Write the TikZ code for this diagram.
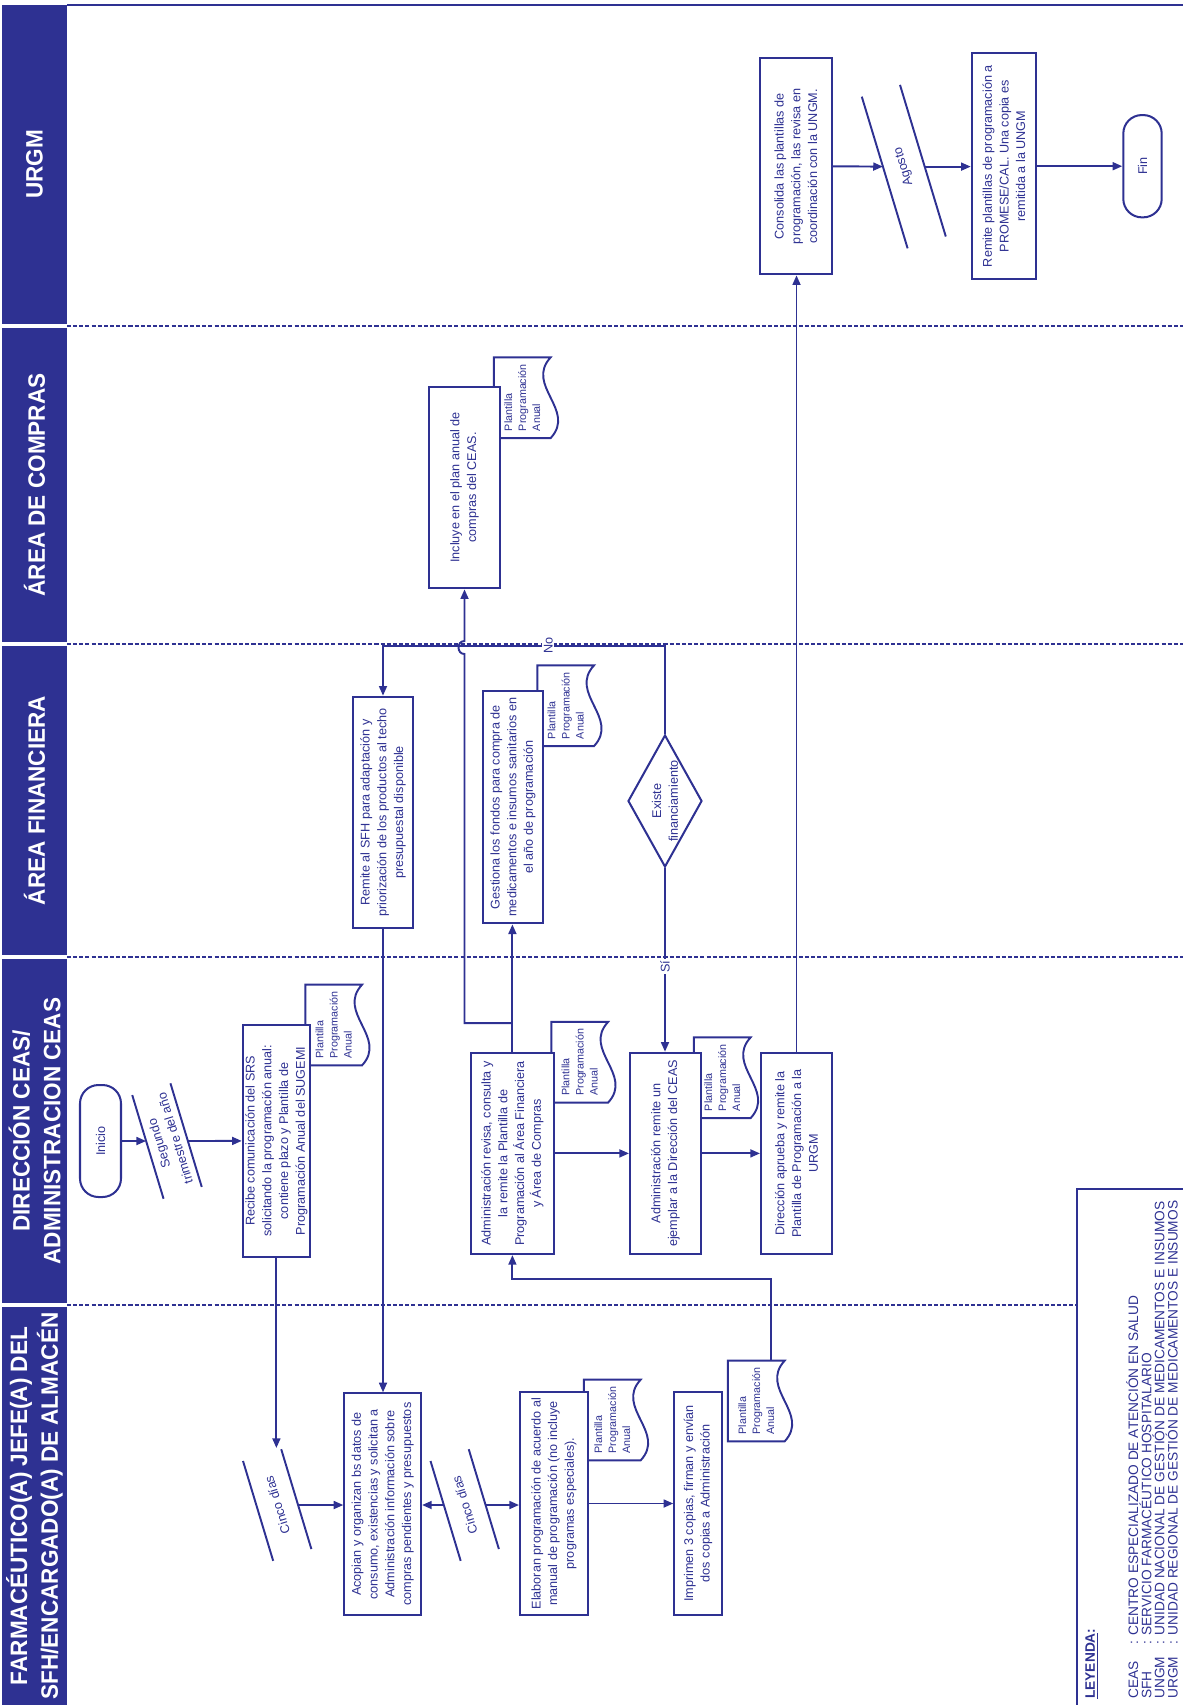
\documentclass[tikz,border=0pt]{standalone}
\usepackage{fontspec}
\setmainfont{Liberation Sans}
\newfontfamily\cabfont[FakeStretch=0.95]{Liberation Sans}
\usetikzlibrary{calc,shapes.geometric,arrows.meta}
\definecolor{azul}{RGB}{46,49,146}
\newcommand{\cuerpo}{\fontsize{7.2}{9.5}\selectfont}
\newcommand{\docfont}{\fontsize{6.1}{8}\selectfont}
\newcommand{\plazo}[4]{%
  \node[plazotxt] (#1) at (#2) {#4};
  \draw[linea] ($(#1)+(-19.1-0.29*#3,5.9-0.96*#3)$) -- ($(#1)+(-19.1+0.29*#3,5.9+0.96*#3)$);
  \draw[linea] ($(#1)+(19.1-0.29*#3,-5.9-0.96*#3)$) -- ($(#1)+(19.1+0.29*#3,-5.9+0.96*#3)$);
  \coordinate (#1-in) at ($(#1)+(-20.9,0)$);
  \coordinate (#1-out) at ($(#1)+(20.9,0)$);
  \coordinate (#1-top) at ($(#1)+(0,-57)$);
}
\newcommand{\plantilla}[2]{%
  \node[docu] (#1) at (#2) {Plantilla\\Programación\\Anual};
  \draw[linea] (#1.north west) -- (#1.north east) -- (#1.south east)
    .. controls ($(#1.south east)+(-26,28)$) and ($(#1.south west)+(26,-28)$) .. (#1.south west) -- cycle;
}
\begin{document}
\begin{tikzpicture}[x=0.02cm,y=-0.02cm,
  linea/.style={draw=azul,line width=1.1pt},
  flecha/.style={linea,-{Triangle[length=5.5pt,width=4.5pt]}},
  divisor/.style={draw=azul,line width=0.8pt,dash pattern=on 2.3pt off 1.2pt},
  tam/.style 2 args={minimum width=#1*0.02cm,minimum height=#2*0.02cm},
  caja/.style={draw=azul,line width=1.15pt,fill=white,rotate=90,align=center,font=\cuerpo,text=azul,inner sep=0pt},
  terminal/.style={caja,rounded corners=0.37cm},
  decision/.style={caja,diamond,aspect=1.78},
  docu/.style={rotate=90,align=left,font=\docfont,text=azul,inner sep=0pt,tam={80}{56}},
  plazotxt/.style={rotate=107,align=center,font=\cuerpo,text=azul,inner sep=0pt},
  etiq/.style={rotate=90,fill=white,inner sep=1pt,font=\cuerpo,text=azul},
  carril/.style={fill=azul,rotate=90,align=center,text=white,inner sep=0pt,font=\cabfont\bfseries\fontsize{13.5}{17.5}\selectfont},
  leyenda/.style={rotate=90,align=left,text=azul,inner sep=0pt,font=\fontsize{7.8}{7.45}\selectfont}]
\useasboundingbox (0,0) rectangle (1183,1705);
\node[carril,tam={319}{65}] (c-urgm) at (34.5,164.5) {URGM};
\node[carril,tam={314}{65}] (c-compras) at (34.5,485) {ÁREA DE COMPRAS};
\node[carril,tam={309}{65}] (c-finan) at (34.5,800.5) {ÁREA FINANCIERA};
\node[carril,tam={344}{65}] (c-direc) at (34.5,1131) {DIRECCIÓN CEAS/\\ADMINISTRACION CEAS};
\node[carril,tam={398}{65}] (c-farma) at (34.5,1506) {FARMACÉUTICO(A) JEFE(A) DEL\\SFH/ENCARGADO(A) DE ALMACÉN};
\draw[azul,line width=1.2pt] (67,4.7) -- (1183,4.7);
\foreach \y in {326,644,957}
  \draw[divisor] (67,\y) -- (1183,\y);
\draw[divisor] (67,1305) -- (1076.7,1305);

\plantilla{docrec}{333.7,1025}
\plantilla{docela}{612.3,1420}
\plantilla{docimp}{756.3,1401}
\plantilla{docadm}{579.7,1062.3}
\plantilla{docrem}{722.3,1077.7}
\plantilla{docges}{565.7,705.7}
\plantilla{docinc}{522.3,397.7}

\node[terminal,tam={112}{41}] (inicio) at (100.5,1141) {Inicio};
\node[caja,tam={231.7}{67.3}] (recibe) at (276.4,1140.9) {Recibe comunicación del SRS\\solicitando la programación anual:\\contiene plazo y Plantilla de\\Programación Anual del SUGEMI};
\node[caja,tam={221.7}{76.7}] (acopian) at (382.7,1504.2) {Acopian y organizan bs datos de\\consumo, existencias y solicitan a\\Administración información sobre\\compras pendientes y presupuestos};
\node[caja,tam={223}{67.7}] (elaboran) at (553.9,1503.5) {Elaboran programación de acuerdo al\\manual de programación (no incluye\\programas especiales).};
\node[caja,tam={223.3}{47.4}] (imprimen) at (698,1503.4) {Imprimen 3 copias, firman y envían\\dos copias a Administración};
\node[caja,tam={201.3}{83.3}] (adminrev) at (512.4,1153.4) {Administración revisa, consulta y\\la remite la Plantilla de\\Programación al Área Financiera\\y Área de Compras};
\node[caja,tam={201.3}{70.7}] (admrem) at (665.4,1153.4) {Administración remite un\\ejemplar a la Dirección del CEAS};
\node[caja,tam={201.3}{71}] (direc) at (796.5,1153.4) {Dirección aprueba y remite la\\Plantilla de Programación a la\\URGM};
\node[caja,tam={231.6}{60.6}] (remite) at (383,812.5) {Remite al SFH para adaptación y\\priorización de los productos al techo\\presupuestal disponible};
\node[caja,tam={232.3}{60.6}] (gestiona) at (513,807.2) {Gestiona los fondos para compra de\\medicamentos e insumos sanitarios en\\el año de programación};
\node[decision,tam={132}{74}] (diam) at (665,801) {Existe\\financiamiento};
\node[caja,tam={201.6}{71}] (incluye) at (464.5,487.5) {Incluye en el plan anual de\\compras del CEAS.};
\node[caja,tam={216}{71.7}] (consol) at (795.9,166.3) {Consolida las plantillas de\\programación, las revisa en\\coordinación con la UNGM.};
\node[caja,tam={225.7}{64.3}] (remplant) at (1003.9,166.2) {Remite plantillas de programación a\\PROMESE/CAL. Una copia es\\remitida a la UNGM};
\node[terminal,tam={102.3}{38.4}] (fin) at (1142.5,166.2) {Fin};

\plazo{segundo}{167,1141}{54}{Segundo\\trimestre del año}
\plazo{cinco1}{277.2,1505}{52}{Cinco días}
\plazo{cinco2}{464.7,1505}{52}{Cinco días}
\plazo{agosto}{903.8,166.6}{79}{Agosto}

\draw[flecha] (inicio.south) -- (segundo-in);
\draw[flecha] (segundo-out) -- (recibe.north);
\draw[flecha] (recibe.west) -- (recibe.west |- cinco1-top);
\draw[flecha] (cinco1-out) -- (cinco1-out -| acopian.north);
\draw[flecha] (cinco2-in) -- (cinco2-in -| acopian.south);
\draw[flecha] (cinco2-out) -- (cinco2-out -| elaboran.north);
\draw[flecha] (elaboran.south) -- (elaboran.south -| imprimen.north);
\draw[flecha] ($(docimp.east)+(14.4,0)$) |- ($(adminrev.west)+(0,24)$) -- (adminrev.west);
\draw[flecha] (adminrev.south) -- (adminrev.south -| admrem.north);
\draw[flecha] (admrem.south) -- (admrem.south -| direc.north);
\draw[flecha] (adminrev.east) -- (adminrev.east |- gestiona.west);
\draw[flecha] ($(adminrev.east)+(0,-28.7)$) -| ($(incluye.west)+(0,64.7)$)
  .. controls +(-8,0) and +(-8,0) .. ($(incluye.west)+(0,51.7)$) -- (incluye.west);
\draw[flecha] (diam.east) |- node[etiq,pos=0.707] {No} ($(remite.east)+(0,-50)$) -- (remite.east);
\draw[flecha] (diam.west) -- node[etiq,pos=0.537] {Sí} (diam.west |- admrem.east);
\draw[flecha] (remite.west) -- (remite.west |- acopian.east);
\draw[flecha] (direc.east) -- (direc.east |- consol.west);
\draw[flecha] (consol.south) -- (agosto-in);
\draw[flecha] (agosto-out) -- (agosto-out -| remplant.north);
\draw[flecha] (remplant.south) -- (remplant.south -| fin.north);

\draw[linea] (1076.7,1705) -- (1076.7,1189.3) -- (1183,1189.3);
\node[leyenda,anchor=west,font=\fontsize{7.8}{7.45}\selectfont\bfseries] (leyenda) at (1092,1699) {\underline{LEYENDA}:};
\node[leyenda,anchor=north west] (siglas) at (1126,1699) {\makebox[31pt][l]{CEAS}: CENTRO ESPECIALIZADO DE ATENCIÓN EN SALUD\\\makebox[31pt][l]{SFH}: SERVICIO FARMACÉUTICO HOSPITALARIO\\\makebox[31pt][l]{UNGM}: UNIDAD NACIONAL DE GESTIÓN DE MEDICAMENTOS E INSUMOS\\\makebox[31pt][l]{URGM}: UNIDAD REGIONAL DE GESTIÓN DE MEDICAMENTOS E INSUMOS};
\end{tikzpicture}
\end{document}
